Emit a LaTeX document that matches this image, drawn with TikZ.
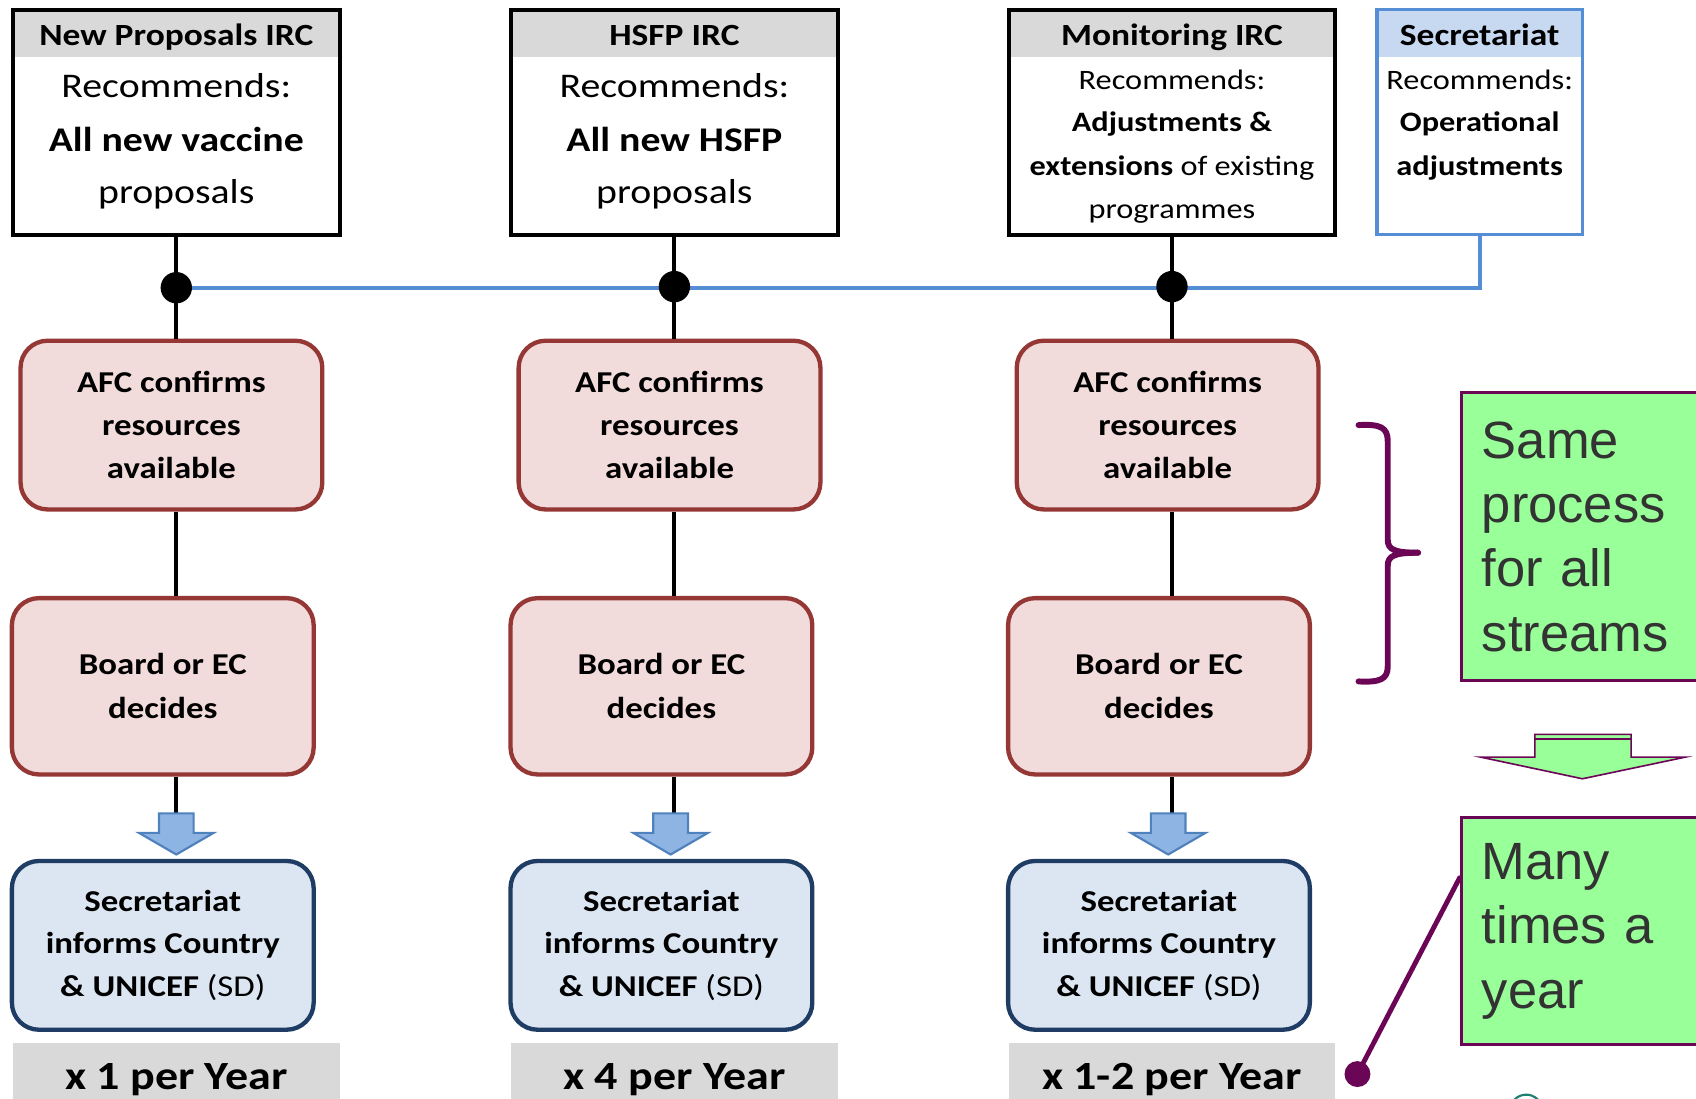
\documentclass[tikz,border=0pt]{standalone}
\usepackage{fontspec}
\setmainfont{Carlito}[FakeStretch=1.15]
\newfontfamily\arialf{Liberation Sans}
\usetikzlibrary{calc}
\definecolor{hdrgray}{HTML}{D9D9D9}
\definecolor{secblue}{HTML}{558ED5}
\definecolor{sechdr}{HTML}{C6D9F1}
\definecolor{afcfill}{HTML}{F2DCDB}
\definecolor{afcdraw}{HTML}{953735}
\definecolor{infofill}{HTML}{DCE6F2}
\definecolor{infodraw}{HTML}{1F3D64}
\definecolor{arrfill}{HTML}{8DB4E2}
\definecolor{arrdraw}{HTML}{4F81BD}
\definecolor{purp}{HTML}{6B0656}
\definecolor{grn}{HTML}{99FF99}
\definecolor{txtgray}{HTML}{333333}
\definecolor{tealc}{HTML}{1E8070}
\tikzset{
 conn/.style={line width=3.8pt, draw=black},
 topbox/.style={draw=black, line width=3.5pt, rectangle, inner sep=0pt, minimum width=302pt, minimum height=208pt},
 secbox/.style={draw=secblue, line width=3pt, rectangle, inner sep=0pt, minimum width=190pt, minimum height=208pt},
 hdrtxt/.style={anchor=base, inner sep=0pt, font=\fontsize{28.5}{34}\selectfont\bfseries},
 bigtxt/.style={anchor=base, inner sep=0pt, font=\fontsize{32}{38}\selectfont},
 smtxt/.style={anchor=base, inner sep=0pt, font=\fontsize{26}{31}\selectfont},
 afcbox/.style={rectangle, rounded corners=25pt, fill=afcfill, draw=afcdraw, line width=4pt, minimum width=279pt, minimum height=156pt, align=center, font=\fontsize{28}{39.5}\selectfont\bfseries, inner sep=0pt},
 boardbox/.style={afcbox, minimum height=163pt, font=\fontsize{28}{40.5}\selectfont\bfseries},
 infobox/.style={afcbox, fill=infofill, draw=infodraw, font=\fontsize{28}{39.5}\selectfont\bfseries},
 freqbox/.style={rectangle, fill=hdrgray, minimum width=302pt, minimum height=68pt, inner sep=0pt, font=\fontsize{37}{44}\selectfont\bfseries},
 jdot/.style={circle, fill=black, minimum size=29pt, inner sep=0pt},
 pdot/.style={circle, fill=purp, minimum size=24pt, inner sep=0pt},
 greenbox/.style={rectangle, fill=grn, draw=purp, line width=3pt, minimum width=250pt, inner sep=0pt, text width=212pt, align=left, text=txtgray, font=\arialf\fontsize{48.5}{59.5}\selectfont},
 blueline/.style={draw=secblue, line width=3.5pt},
 purpline/.style={draw=purp, line width=4.5pt, line cap=round},
 blkarr/.pic={\draw[fill=arrfill, draw=arrdraw, line width=2pt, line join=miter] (-16,0) -- (16,0) -- (16,18) -- (34.5,18) -- (0,38) -- (-34.5,18) -- (-16,18) -- cycle;}
}
\begin{document}
\begin{tikzpicture}[x=1pt,y=-1pt]
\useasboundingbox (0,0) rectangle (1568,1016);
% header fills
\fill[hdrgray] (12,9) rectangle (314,53);
\fill[hdrgray] (473,9) rectangle (774,53);
\fill[hdrgray] (933,9) rectangle (1234,53);
\fill[sechdr] (1273,9) rectangle (1463,53);
% top boxes
\node[topbox] (ta) at (163,113) {};
\node[topbox] (tb) at (623.5,113) {};
\node[topbox] (tc) at (1083.5,113) {};
\node[secbox] (td) at (1368,113) {};
% top texts
\node[hdrtxt] (ta1) at (163,42) {New Proposals IRC};
\node[bigtxt] (ta2) at (163,90) {Recommends:};
\node[bigtxt, font=\fontsize{32}{38}\selectfont\bfseries] (ta3) at (163,140) {All new vaccine};
\node[bigtxt] (ta4) at (163,188) {proposals};
\node[hdrtxt] (tb1) at (623.5,42) {HSFP IRC};
\node[bigtxt] (tb2) at (623.5,90) {Recommends:};
\node[bigtxt, font=\fontsize{32}{38}\selectfont\bfseries] (tb3) at (623.5,140) {All new HSFP};
\node[bigtxt] (tb4) at (623.5,188) {proposals};
\node[hdrtxt] (tc1) at (1083.5,42) {Monitoring IRC};
\node[smtxt] (tc2) at (1083.5,82.5) {Recommends:};
\node[smtxt] (tc3) at (1083.5,122) {\bfseries Adjustments \&};
\node[smtxt] (tc4) at (1083.5,162) {\textbf{extensions} of existing};
\node[smtxt] (tc5) at (1083.5,202) {programmes};
\node[hdrtxt] (td1) at (1368,42) {Secretariat};
\node[smtxt] (td2) at (1368,82.5) {Recommends:};
\node[smtxt] (td3) at (1368,122) {\bfseries Operational};
\node[smtxt] (td4) at (1368,162) {\bfseries adjustments};
% process boxes
\node[afcbox] (afc1) at (158.5,393) {AFC confirms\\resources\\available};
\node[afcbox] (afc2) at (619,393) {AFC confirms\\resources\\available};
\node[afcbox] (afc3) at (1079.5,393) {AFC confirms\\resources\\available};
\node[boardbox] (bd1) at (150.5,634.5) {Board or EC\\decides};
\node[boardbox] (bd2) at (611.5,634.5) {Board or EC\\decides};
\node[boardbox] (bd3) at (1071.5,634.5) {Board or EC\\decides};
\node[infobox] (in1) at (150.5,874) {Secretariat\\informs Country\\\& UNICEF \mdseries(SD)};
\node[infobox] (in2) at (611.5,874) {Secretariat\\informs Country\\\& UNICEF \mdseries(SD)};
\node[infobox] (in3) at (1071.5,874) {Secretariat\\informs Country\\\& UNICEF \mdseries(SD)};
\node[freqbox] (fq1) at (163,998) {x 1 per Year};
\node[freqbox] (fq2) at (623.5,998) {x 4 per Year};
\node[freqbox] (fq3) at (1083.5,998) {x 1-2 per Year};
% junction dots (positions)
\coordinate (d1) at (163,266);
\coordinate (d2) at (623.5,265);
\coordinate (d3) at (1083.5,265);
% blue line
\draw[blueline] (d1) -- (td.south |- d1) -- (td.south);
% verticals
\draw[conn] (ta.south) -- (ta.south |- afc1.north);
\draw[conn] (tb.south) -- (tb.south |- afc2.north);
\draw[conn] (tc.south) -- (tc.south |- afc3.north);
\draw[conn] (ta.south |- afc1.south) -- (ta.south |- bd1.north);
\draw[conn] (tb.south |- afc2.south) -- (tb.south |- bd2.north);
\draw[conn] (tc.south |- afc3.south) -- (tc.south |- bd3.north);
\coordinate (a1) at (163,752);
\coordinate (a2) at (620,752);
\coordinate (a3) at (1080,752);
\draw[conn] (ta.south |- bd1.south) -- (ta.south |- a1);
\draw[conn] (tb.south |- bd2.south) -- (tb.south |- a2);
\draw[conn] (tc.south |- bd3.south) -- (tc.south |- a3);
\pic at (a1) {blkarr};
\pic at (a2) {blkarr};
\pic at (a3) {blkarr};
% dots on top
\node[jdot] (j1) at (d1) {};
\node[jdot] (j2) at (d2) {};
\node[jdot] (j3) at (d3) {};
% brace
\draw[purp, line width=5.5pt, line cap=round] (1256,393) .. controls (1276,392) and (1283,395) .. (1283,408) -- (1283,499) .. controls (1283,508) and (1289,511) .. (1311,511);
\draw[purp, line width=5.5pt, line cap=round] (1311,511) .. controls (1289,511) and (1283,514) .. (1283,523) -- (1283,616) .. controls (1283,628) and (1276,631) .. (1256,630);
% green boxes
\node[greenbox, minimum height=266pt] (same) at (1476,496) {Same\\process\\for all\\streams};
\node[greenbox, minimum height=210pt] (many) at (1476,861) {Many\\times a\\year};
% green arrow
\draw[fill=grn, draw=purp, line width=1.5pt] (1419,679) -- (1508,679) -- (1508,700) -- (1558,700) -- (1463,720) -- (1369,700) -- (1419,700) -- cycle;
\draw[purp, line width=1.5pt] (1419,683.5) -- (1508,683.5);
% callout
\node[pdot] (pd) at (1255,993) {};
\coordinate (mc) at ($(many.north west)+(0,57)$);
\draw[purpline] (mc) -- (pd.center);
% small arc at bottom
\draw[tealc, line width=2pt] (1396.9,1021.9) arc[start angle=200, end angle=340, radius=15];
\end{tikzpicture}
\end{document}
